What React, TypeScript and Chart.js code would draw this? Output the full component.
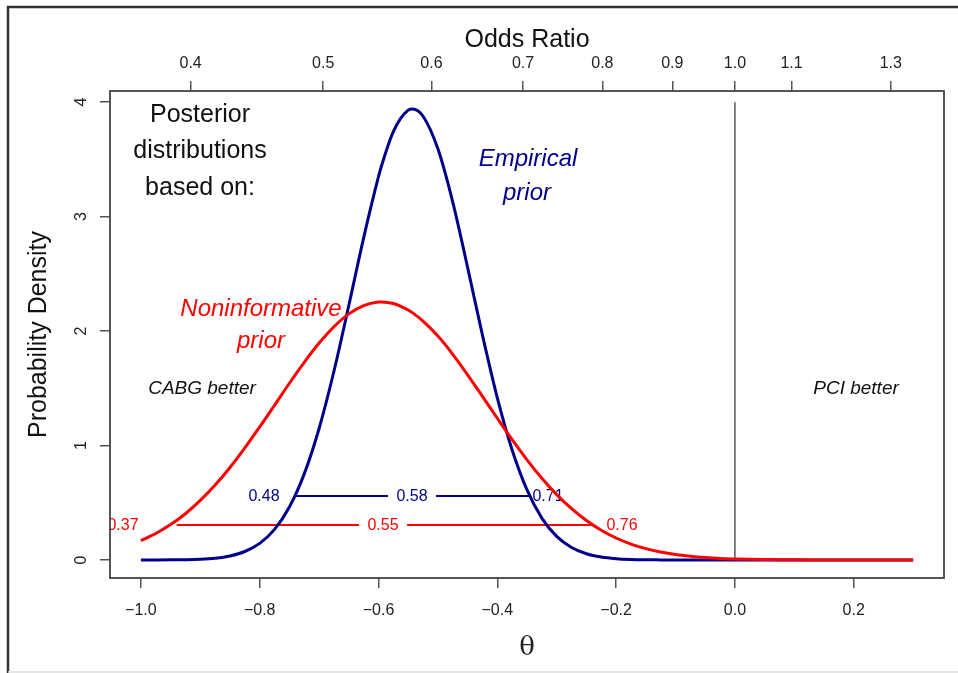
import React, { useEffect, useRef } from 'react';
import { Chart, registerables } from 'chart.js';

Chart.register(...registerables);

// ---------- data ----------
const THETA = [
  -1.0, -0.975, -0.95, -0.925, -0.9, -0.875, -0.85, -0.825, -0.8, -0.775,
  -0.75, -0.725, -0.7, -0.675, -0.65, -0.625, -0.6, -0.595, -0.575, -0.55,
  -0.5425, -0.525, -0.5, -0.475, -0.45, -0.425, -0.4, -0.375, -0.35, -0.325,
  -0.3, -0.275, -0.25, -0.225, -0.2, -0.175, -0.15, -0.125, -0.1, -0.075,
  -0.05, -0.025, 0.0, 0.025, 0.05, 0.075, 0.1, 0.125, 0.15, 0.175,
  0.2, 0.225, 0.25, 0.275, 0.3,
];

const EMPIRICAL = [
  0.0001, 0.0004, 0.001, 0.0027, 0.0067, 0.0159, 0.0354, 0.074, 0.145, 0.267,
  0.4625, 0.752, 1.149, 1.649, 2.223, 2.815, 3.349, 3.442, 3.743, 3.93,
  3.94, 3.877, 3.592, 3.127, 2.557, 1.964, 1.417, 0.961, 0.612, 0.366,
  0.206, 0.109, 0.054, 0.025, 0.011, 0.0045, 0.0017, 0.0006, 0.0002, 0,
  0, 0, 0, 0, 0, 0, 0, 0, 0, 0,
  0, 0, 0, 0, 0,
];

const NONINFORMATIVE = [
  0.169, 0.231, 0.309, 0.404, 0.52, 0.654, 0.808, 0.979, 1.162, 1.352,
  1.544, 1.727, 1.895, 2.038, 2.15, 2.223, 2.254, 2.255, 2.241, 2.184,
  2.159, 2.087, 1.956, 1.797, 1.618, 1.429, 1.238, 1.051, 0.875, 0.714,
  0.571, 0.448, 0.345, 0.26, 0.192, 0.139, 0.099, 0.069, 0.047, 0.032,
  0.021, 0.013, 0.0085, 0.0052, 0.0032, 0.0019, 0.0011, 0.0006, 0.0003, 0.0002,
  0.0001, 0, 0, 0, 0,
];

const THETA_TICKS = [-1.0, -0.8, -0.6, -0.4, -0.2, 0.0, 0.2];
const ODDS_RATIO_TICKS = [0.4, 0.5, 0.6, 0.7, 0.8, 0.9, 1.0, 1.1, 1.3];
const ODDS_RATIO_LABELS = ['0.4', '0.5', '0.6', '0.7', '0.8', '0.9', '1.0', '1.1', '1.3'];
const DENSITY_TICKS = [0, 1, 2, 3, 4];

// 95% intervals (theta scale) and the height at which they are drawn
const EMPIRICAL_CI = [-0.7406, -0.3449];
const EMPIRICAL_CI_LEVEL = 0.559;
const EMPIRICAL_CI_LABELS = ['0.48', '0.58', '0.71'];
const NONINF_CI = [-0.9397, -0.2389];
const NONINF_CI_LEVEL = 0.3055;
const NONINF_CI_LABELS = ['0.37', '0.55', '0.76'];

// ---------- layout / style ----------
const X_MIN = -1.052;
const X_MAX = 0.352;
const Y_MIN = -0.1576;
const Y_MAX = 4.0976;
const NAVY = '#00008B';
const RED = '#FF0000';
const SANS = '"Liberation Sans", Arial, Helvetica, sans-serif';
const EMP_LABEL_AT = [-0.7927, -0.5436, -0.3146];
const NONINF_LABEL_AT = [-1.0301, -0.5924, -0.1901];

const TEXTS = [
  { t: 'Posterior', x: -0.9005, y: 3.89, color: '#111', font: `25px ${SANS}` },
  { t: 'distributions', x: -0.9005, y: 3.576, color: '#111', font: `25px ${SANS}` },
  { t: 'based on:', x: -0.9005, y: 3.252, color: '#111', font: `25px ${SANS}` },
  { t: 'Empirical', x: -0.3483, y: 3.5, color: NAVY, font: `italic 24px ${SANS}` },
  { t: 'prior', x: -0.35, y: 3.203, color: NAVY, font: `italic 24px ${SANS}` },
  { t: 'Noninformative', x: -0.7978, y: 2.19, color: RED, font: `italic 24px ${SANS}` },
  { t: 'prior', x: -0.7978, y: 1.91, color: RED, font: `italic 24px ${SANS}` },
  { t: 'CABG better', x: -0.8971, y: 1.495, color: '#111', font: `italic 19px ${SANS}` },
  { t: 'PCI better', x: 0.2039, y: 1.495, color: '#111', font: `italic 19px ${SANS}` },
];

function drawCI(ctx: CanvasRenderingContext2D, xs: any, ys: any, ci: number[], level: number,
  labels: string[], at: number[], color: string) {
  const py = ys.getPixelForValue(level);
  ctx.strokeStyle = color;
  ctx.lineWidth = 1.8;
  ctx.beginPath();
  ctx.moveTo(xs.getPixelForValue(ci[0]), py);
  ctx.lineTo(xs.getPixelForValue(ci[1]), py);
  ctx.stroke();
  ctx.font = `16px ${SANS}`;
  ctx.textAlign = 'center';
  ctx.textBaseline = 'middle';
  labels.forEach((lab, i) => {
    const px = xs.getPixelForValue(at[i]);
    if (i === 1) {
      const w = ctx.measureText(lab).width + 17;
      ctx.fillStyle = '#fff';
      ctx.fillRect(px - w / 2, py - 6, w, 12);
    }
    ctx.fillStyle = color;
    ctx.fillText(lab, px, py + 1);
  });
}

const overlay = {
  id: 'overlay',
  beforeDatasetsDraw(chart: any) {
    const { ctx, chartArea: a, scales } = chart;
    const xs = scales.x;
    const ys = scales.y;
    ctx.save();
    ctx.strokeStyle = '#555';
    ctx.lineWidth = 1.5;
    ctx.beginPath();
    ctx.moveTo(xs.getPixelForValue(0), ys.getPixelForValue(0));
    ctx.lineTo(xs.getPixelForValue(0), ys.getPixelForValue(4));
    ctx.stroke();
    ctx.beginPath();
    ctx.rect(a.left, a.top, a.right - a.left, a.bottom - a.top);
    ctx.clip();
    drawCI(ctx, xs, ys, NONINF_CI, NONINF_CI_LEVEL, NONINF_CI_LABELS, NONINF_LABEL_AT, RED);
    drawCI(ctx, xs, ys, EMPIRICAL_CI, EMPIRICAL_CI_LEVEL, EMPIRICAL_CI_LABELS, EMP_LABEL_AT, NAVY);
    ctx.restore();
  },
  afterDraw(chart: any) {
    const { ctx, chartArea: a, scales } = chart;
    const xs = scales.x;
    const ys = scales.y;
    ctx.save();
    // plot box
    ctx.strokeStyle = '#444';
    ctx.lineWidth = 1.8;
    ctx.strokeRect(a.left, a.top, a.right - a.left, a.bottom - a.top);
    // annotations
    ctx.textAlign = 'center';
    ctx.textBaseline = 'middle';
    TEXTS.forEach((d) => {
      ctx.font = d.font;
      ctx.fillStyle = d.color;
      ctx.fillText(d.t, xs.getPixelForValue(d.x), ys.getPixelForValue(d.y));
    });
    // outer frame
    ctx.strokeStyle = '#333';
    ctx.lineWidth = 2.5;
    ctx.beginPath();
    ctx.moveTo(8, 673);
    ctx.lineTo(8, 7);
    ctx.lineTo(958, 7);
    ctx.stroke();
    ctx.strokeStyle = '#ddd';
    ctx.lineWidth = 1.5;
    ctx.beginPath();
    ctx.moveTo(8, 672);
    ctx.lineTo(958, 672);
    ctx.stroke();
    ctx.restore();
  },
};

const tickGrid = { display: true, drawOnChartArea: false, drawTicks: true, tickLength: 10, color: '#555', lineWidth: 1.5 };

export default function App() {
  const ref = useRef<HTMLCanvasElement>(null);
  useEffect(() => {
    document.body.style.margin = '0';
    const canvas = ref.current!;
    const chart = new Chart(canvas, {
      type: 'line',
      data: {
        datasets: [
          {
            label: 'Noninformative prior',
            data: THETA.map((t, i) => ({ x: t, y: NONINFORMATIVE[i] })),
            borderColor: RED,
            borderWidth: 3,
            pointRadius: 0,
            cubicInterpolationMode: 'monotone',
            fill: false,
          },
          {
            label: 'Empirical prior',
            data: THETA.map((t, i) => ({ x: t, y: EMPIRICAL[i] })),
            borderColor: NAVY,
            borderWidth: 3,
            pointRadius: 0,
            cubicInterpolationMode: 'monotone',
            fill: false,
          },
        ],
      },
      options: {
        animation: false,
        responsive: false,
        maintainAspectRatio: false,
        layout: { padding: { left: 0, right: 14, top: 0, bottom: 0 } },
        plugins: { legend: { display: false }, tooltip: { enabled: false } },
        scales: {
          x: {
            type: 'linear',
            position: 'bottom',
            min: X_MIN,
            max: X_MAX,
            bounds: 'data',
            afterBuildTicks: (s: any) => { s.ticks = THETA_TICKS.map((v) => ({ value: v })); },
            afterFit: (s: any) => { s.height = 95; },
            ticks: {
              autoSkip: false,
              maxRotation: 0,
              padding: 13,
              color: '#222',
              font: { family: SANS, size: 16 },
              callback: (v: any) => (Number(v) < 0 ? '\u2212' + Math.abs(Number(v)).toFixed(1) : Number(v).toFixed(1)),
            },
            grid: tickGrid,
            border: { display: false },
            title: { display: true, text: 'θ', color: '#222', font: { family: '"DejaVu Serif", "Liberation Serif", serif', size: 26 }, padding: { top: 0, bottom: 9 } },
          },
          x2: {
            type: 'linear',
            position: 'top',
            min: X_MIN,
            max: X_MAX,
            bounds: 'data',
            afterBuildTicks: (s: any) => { s.ticks = ODDS_RATIO_TICKS.map((v) => ({ value: Math.log(v) })); },
            afterFit: (s: any) => { s.height = 91; },
            ticks: {
              autoSkip: false,
              maxRotation: 0,
              padding: 8,
              color: '#222',
              font: { family: SANS, size: 16 },
              callback: (_v: any, i: number) => ODDS_RATIO_LABELS[i],
            },
            grid: tickGrid,
            border: { display: false },
            title: { display: true, text: 'Odds Ratio', color: '#111', font: { family: SANS, size: 25 }, padding: { top: 25, bottom: 0 } },
          },
          y: {
            type: 'linear',
            position: 'left',
            min: Y_MIN,
            max: Y_MAX,
            bounds: 'data',
            afterBuildTicks: (s: any) => { s.ticks = DENSITY_TICKS.map((v) => ({ value: v })); },
            afterFit: (s: any) => { s.width = 110; },
            ticks: {
              autoSkip: false,
              minRotation: 90,
              maxRotation: 90,
              crossAlign: 'center',
              padding: 14,
              color: '#222',
              font: { family: SANS, size: 16 },
              callback: (v: any) => String(v),
            },
            grid: tickGrid,
            border: { display: false },
            title: { display: true, text: 'Probability Density', color: '#111', font: { family: SANS, size: 25 }, padding: { top: 24, bottom: 0 } },
          },
        },
      },
      plugins: [overlay],
    } as any);
    return () => chart.destroy();
  }, []);
  return (
    <canvas ref={ref} width={958} height={673} style={{ display: 'block', width: 958, height: 673 }} />
  );
}
